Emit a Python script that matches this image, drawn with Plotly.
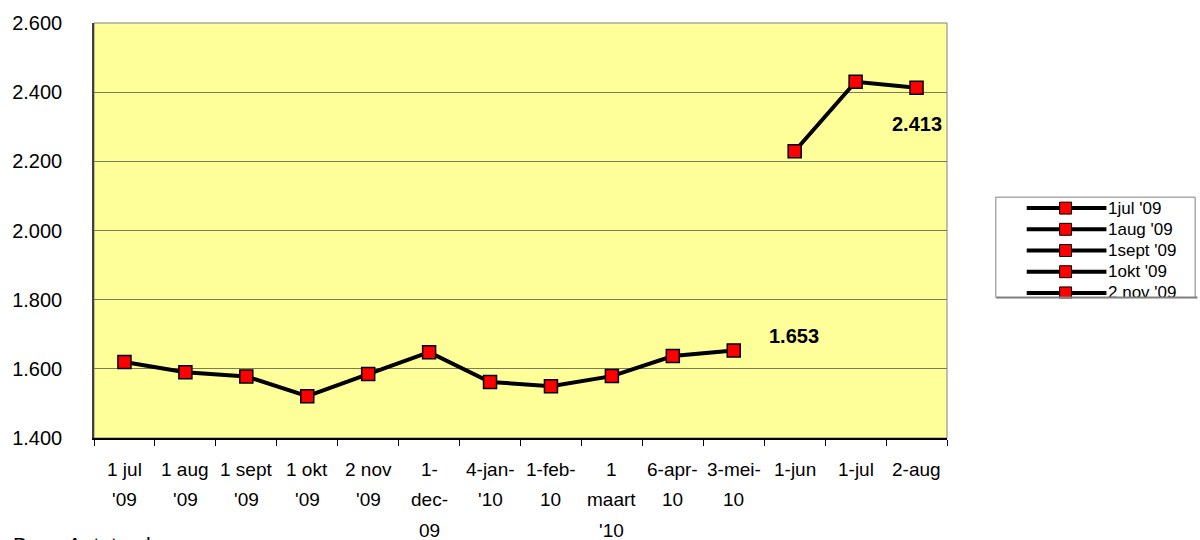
import plotly.graph_objects as go

# ---------------- data ----------------
categories = ["1 jul '09", "1 aug '09", "1 sept '09", "1 okt '09", "2 nov '09",
              "1-dec-09", "4-jan-'10", "1-feb-10", "1 maart '10", "6-apr-10",
              "3-mei-10", "1-jun", "1-jul", "2-aug"]
tick_lines = [["1 jul", "'09"], ["1 aug", "'09"], ["1 sept", "'09"], ["1 okt", "'09"],
              ["2 nov", "'09"], ["1-", "dec-", "09"], ["4-jan-", "'10"], ["1-feb-", "10"],
              ["1", "maart", "'10"], ["6-apr-", "10"], ["3-mei-", "10"], ["1-jun"],
              ["1-jul"], ["2-aug"]]
values = [1620, 1590, 1578, 1521, 1585, 1648, 1562, 1550, 1579, 1637, 1653,
          2229, 2430, 2413]
segments = [(0, 11), (11, 14)]          # line is broken between 3-mei and 1-jun
label_points = [10, 13]
legend_labels = ["1jul '09", "1aug '09", "1sept '09", "1okt '09", "2 nov '09"]
source_text = "Bron: Autotrack"

FONT = "Liberation Sans, Arial, sans-serif"
W, H = 1200, 540
L, R, T, B = 91, 947, 21, 438


def px_x(px):
    return (px - L) / (R - L)


def px_y(py):
    return (B - py) / (B - T)


def fmt(v):
    return f"{v:,}".replace(",", ".")


fig = go.Figure()
for a, b in segments:
    fig.add_trace(go.Scatter(
        x=categories[a:b], y=values[a:b], mode="lines+markers",
        line=dict(color="black", width=4),
        marker=dict(symbol="square", size=13, color="#FF0000",
                    line=dict(color="black", width=1.5)),
        showlegend=False, hoverinfo="x+y"))

shapes = [dict(type="rect", xref="paper", yref="paper", x0=0, x1=1, y0=0, y1=1,
               line=dict(color="#808080", width=1), layer="below")]
annotations = []

# x tick labels (multi-line, Excel-like line spacing)
for cat, lines in zip(categories, tick_lines):
    for i, t in enumerate(lines):
        annotations.append(dict(x=cat, xref="x", y=0, yref="paper", text=t,
                                showarrow=False, yanchor="middle", xanchor="center",
                                yshift=-(31 + 30.5 * i),
                                font=dict(family=FONT, size=19, color="black")))

# data labels
offsets = {10: (60, 15), 13: (0, -36)}
for idx in label_points:
    dx, dy = offsets[idx]
    annotations.append(dict(x=categories[idx], y=values[idx], xref="x", yref="y",
                            text="<b>%s</b>" % fmt(values[idx]), showarrow=False,
                            xshift=dx, yshift=dy,
                            font=dict(family=FONT, size=20, color="black")))

# source
annotations.append(dict(x=px_x(8), xref="paper", y=0, yref="paper", text=source_text,
                        showarrow=False, xanchor="left", yanchor="top", yshift=-93,
                        font=dict(family=FONT, size=21, color="black")))

# legend box (clipped at the bottom like the original)
shapes.append(dict(type="rect", xref="paper", yref="paper",
                   x0=px_x(996), x1=px_x(1196), y0=px_y(297), y1=px_y(196),
                   line=dict(color="#808080", width=1), fillcolor="white"))
for i, lab in enumerate(legend_labels):
    yc = 207 + 21.3 * i
    shapes.append(dict(type="line", xref="paper", yref="paper",
                       x0=px_x(1027), x1=px_x(1107), y0=px_y(yc), y1=px_y(yc),
                       line=dict(color="black", width=4)))
    shapes.append(dict(type="rect", xref="paper", yref="paper",
                       x0=px_x(1060), x1=px_x(1072), y0=px_y(yc + 6), y1=px_y(yc - 6),
                       line=dict(color="black", width=1), fillcolor="#FF0000"))
    annotations.append(dict(x=px_x(1107), xref="paper", y=px_y(yc), yref="paper",
                            text=lab, showarrow=False, xanchor="left", yanchor="middle",
                            font=dict(family=FONT, size=17, color="black")))
# cover below legend to clip its last row
annotations.append(dict(x=px_x(990), xref="paper", y=px_y(297.5), yref="paper",
                        text=" ", showarrow=False, xanchor="left", yanchor="top",
                        width=215, height=20, bgcolor="white", borderpad=0,
                        font=dict(size=1)))
annotations.append(dict(x=px_x(996), xref="paper", y=px_y(297), yref="paper",
                        text=" ", showarrow=False, xanchor="left", yanchor="middle",
                        width=200, height=1, bgcolor="#808080", borderpad=0,
                        font=dict(size=1)))

fig.update_layout(
    width=W, height=H,
    margin=dict(l=L, r=W - R, t=T, b=H - B, pad=0),
    paper_bgcolor="white", plot_bgcolor="#FFFF99",
    separators=",.",
    font=dict(family=FONT, size=20, color="black"),
    xaxis=dict(type="category", categoryorder="array", categoryarray=categories,
               range=[-0.5, len(categories) - 0.5], showgrid=False,
               showticklabels=False, ticks="outside", tickson="boundaries",
               ticklen=6, tickcolor="black", showline=True, linecolor="black",
               linewidth=1.5, zeroline=False, fixedrange=True),
    yaxis=dict(range=[1400, 2600], dtick=200, tickformat=",d", showgrid=True,
               gridcolor="#7A7A5C", gridwidth=1, showline=True, linecolor="#404040",
               linewidth=1.5, ticks="", ticklabelstandoff=26, zeroline=False,
               tickfont=dict(family=FONT, size=20, color="black"), fixedrange=True),
    shapes=shapes, annotations=annotations,
)

fig.write_html("out.html", config={"displayModeBar": False},
               post_script="document.body.style.margin='0';"
                           "document.body.style.padding='0';"
                           "document.body.style.overflow='hidden';")
